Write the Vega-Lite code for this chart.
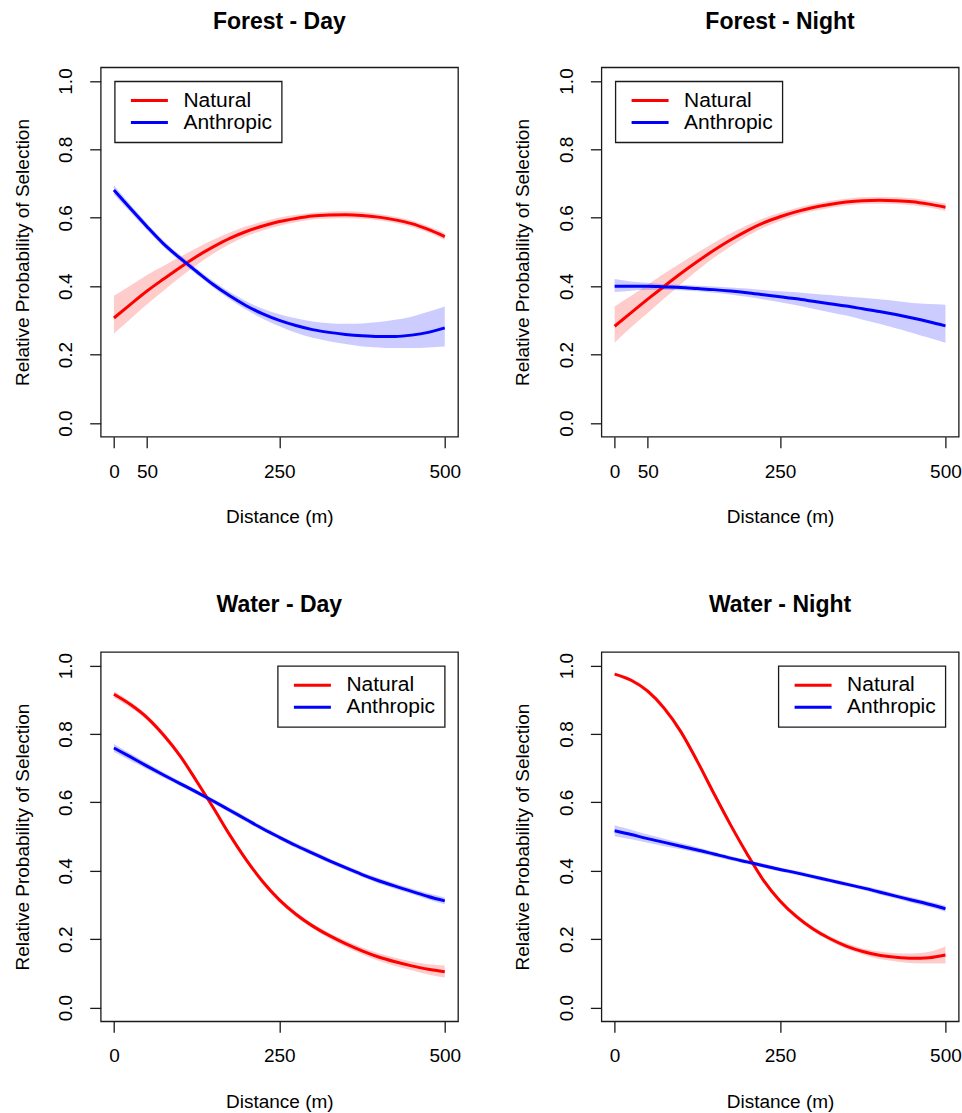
{
"$schema": "https://vega.github.io/schema/vega-lite/v6.json",
"padding": {"left": 11.7, "top": 9.3, "right": 0, "bottom": 0},
"config": {
  "font": "Liberation Sans",
  "background": "white",
  "view": {"stroke": "#1a1a1a", "strokeWidth": 1.3},
  "axis": {"grid": false, "domain": false, "tickSize": 11, "tickColor": "#1a1a1a", "tickWidth": 1.3, "labelFont": "Liberation Sans", "labelFontSize": 19, "labelColor": "#000000", "titleFont": "Liberation Sans", "titleFontSize": 19, "titleFontWeight": "normal", "titleColor": "#000000", "labelOverlap": false},
  "axisX": {"labelAngle": 0, "labelBaseline": "alphabetic", "labelPadding": 29.5, "labelFlush": false, "titleBaseline": "alphabetic", "titleAlign": "center"},
  "axisY": {"labelAngle": 270, "labelAlign": "center", "labelBaseline": "alphabetic", "labelPadding": 18, "titleAngle": 270, "titleBaseline": "alphabetic", "titleAlign": "center"},
  "title": {"font": "Liberation Sans", "fontSize": 23, "fontWeight": "bold", "color": "#000000", "anchor": "middle", "frame": "group", "baseline": "alphabetic"},
  "legend": {"title": null, "offset": 13.5, "strokeColor": "#1a1a1a", "strokeWidth": 1.3, "fillColor": "white", "padding": 9, "symbolType": "stroke", "symbolSize": 1369, "symbolStrokeWidth": 3, "clipHeight": 20.5, "rowPadding": 0, "symbolOffset": 5.7, "labelOffset": 14, "labelFont": "Liberation Sans", "labelFontSize": 21, "labelColor": "#000000", "labelBaseline": "middle"}
},
"data": {"values": [
{"panel":"Forest - Day","type":"Natural","x":0,"y":0.307,"lo":0.262,"hi":0.372},
{"panel":"Forest - Day","type":"Natural","x":25,"y":0.347,"lo":0.304,"hi":0.402},
{"panel":"Forest - Day","type":"Natural","x":50,"y":0.386,"lo":0.347,"hi":0.433},
{"panel":"Forest - Day","type":"Natural","x":75,"y":0.421,"lo":0.387,"hi":0.459},
{"panel":"Forest - Day","type":"Natural","x":100,"y":0.455,"lo":0.426,"hi":0.486},
{"panel":"Forest - Day","type":"Natural","x":125,"y":0.487,"lo":0.462,"hi":0.512},
{"panel":"Forest - Day","type":"Natural","x":150,"y":0.515,"lo":0.495,"hi":0.536},
{"panel":"Forest - Day","type":"Natural","x":175,"y":0.540,"lo":0.523,"hi":0.557},
{"panel":"Forest - Day","type":"Natural","x":200,"y":0.560,"lo":0.546,"hi":0.575},
{"panel":"Forest - Day","type":"Natural","x":225,"y":0.576,"lo":0.563,"hi":0.589},
{"panel":"Forest - Day","type":"Natural","x":250,"y":0.589,"lo":0.577,"hi":0.601},
{"panel":"Forest - Day","type":"Natural","x":275,"y":0.598,"lo":0.587,"hi":0.609},
{"panel":"Forest - Day","type":"Natural","x":300,"y":0.605,"lo":0.595,"hi":0.615},
{"panel":"Forest - Day","type":"Natural","x":325,"y":0.608,"lo":0.598,"hi":0.618},
{"panel":"Forest - Day","type":"Natural","x":350,"y":0.609,"lo":0.599,"hi":0.619},
{"panel":"Forest - Day","type":"Natural","x":375,"y":0.607,"lo":0.597,"hi":0.617},
{"panel":"Forest - Day","type":"Natural","x":400,"y":0.602,"lo":0.593,"hi":0.611},
{"panel":"Forest - Day","type":"Natural","x":425,"y":0.594,"lo":0.585,"hi":0.603},
{"panel":"Forest - Day","type":"Natural","x":450,"y":0.583,"lo":0.574,"hi":0.592},
{"panel":"Forest - Day","type":"Natural","x":475,"y":0.566,"lo":0.557,"hi":0.575},
{"panel":"Forest - Day","type":"Natural","x":500,"y":0.545,"lo":0.535,"hi":0.555},
{"panel":"Forest - Day","type":"Anthropic","x":0,"y":0.681,"lo":0.668,"hi":0.695},
{"panel":"Forest - Day","type":"Anthropic","x":25,"y":0.627,"lo":0.616,"hi":0.638},
{"panel":"Forest - Day","type":"Anthropic","x":50,"y":0.574,"lo":0.564,"hi":0.584},
{"panel":"Forest - Day","type":"Anthropic","x":75,"y":0.524,"lo":0.515,"hi":0.533},
{"panel":"Forest - Day","type":"Anthropic","x":100,"y":0.482,"lo":0.473,"hi":0.491},
{"panel":"Forest - Day","type":"Anthropic","x":125,"y":0.443,"lo":0.434,"hi":0.452},
{"panel":"Forest - Day","type":"Anthropic","x":150,"y":0.405,"lo":0.396,"hi":0.415},
{"panel":"Forest - Day","type":"Anthropic","x":175,"y":0.372,"lo":0.362,"hi":0.383},
{"panel":"Forest - Day","type":"Anthropic","x":200,"y":0.343,"lo":0.331,"hi":0.356},
{"panel":"Forest - Day","type":"Anthropic","x":225,"y":0.319,"lo":0.305,"hi":0.334},
{"panel":"Forest - Day","type":"Anthropic","x":250,"y":0.300,"lo":0.283,"hi":0.318},
{"panel":"Forest - Day","type":"Anthropic","x":275,"y":0.285,"lo":0.264,"hi":0.306},
{"panel":"Forest - Day","type":"Anthropic","x":300,"y":0.273,"lo":0.249,"hi":0.297},
{"panel":"Forest - Day","type":"Anthropic","x":325,"y":0.265,"lo":0.239,"hi":0.292},
{"panel":"Forest - Day","type":"Anthropic","x":350,"y":0.259,"lo":0.231,"hi":0.290},
{"panel":"Forest - Day","type":"Anthropic","x":375,"y":0.255,"lo":0.224,"hi":0.291},
{"panel":"Forest - Day","type":"Anthropic","x":400,"y":0.253,"lo":0.221,"hi":0.295},
{"panel":"Forest - Day","type":"Anthropic","x":425,"y":0.253,"lo":0.219,"hi":0.302},
{"panel":"Forest - Day","type":"Anthropic","x":450,"y":0.257,"lo":0.219,"hi":0.311},
{"panel":"Forest - Day","type":"Anthropic","x":475,"y":0.265,"lo":0.221,"hi":0.325},
{"panel":"Forest - Day","type":"Anthropic","x":500,"y":0.278,"lo":0.224,"hi":0.341},
{"panel":"Forest - Night","type":"Natural","x":0,"y":0.283,"lo":0.235,"hi":0.341},
{"panel":"Forest - Night","type":"Natural","x":25,"y":0.323,"lo":0.280,"hi":0.372},
{"panel":"Forest - Night","type":"Natural","x":50,"y":0.362,"lo":0.322,"hi":0.404},
{"panel":"Forest - Night","type":"Natural","x":75,"y":0.400,"lo":0.364,"hi":0.437},
{"panel":"Forest - Night","type":"Natural","x":100,"y":0.437,"lo":0.406,"hi":0.468},
{"panel":"Forest - Night","type":"Natural","x":125,"y":0.472,"lo":0.446,"hi":0.498},
{"panel":"Forest - Night","type":"Natural","x":150,"y":0.505,"lo":0.483,"hi":0.527},
{"panel":"Forest - Night","type":"Natural","x":175,"y":0.535,"lo":0.516,"hi":0.554},
{"panel":"Forest - Night","type":"Natural","x":200,"y":0.562,"lo":0.546,"hi":0.578},
{"panel":"Forest - Night","type":"Natural","x":225,"y":0.585,"lo":0.571,"hi":0.599},
{"panel":"Forest - Night","type":"Natural","x":250,"y":0.603,"lo":0.591,"hi":0.615},
{"panel":"Forest - Night","type":"Natural","x":275,"y":0.618,"lo":0.607,"hi":0.629},
{"panel":"Forest - Night","type":"Natural","x":300,"y":0.630,"lo":0.620,"hi":0.640},
{"panel":"Forest - Night","type":"Natural","x":325,"y":0.639,"lo":0.629,"hi":0.649},
{"panel":"Forest - Night","type":"Natural","x":350,"y":0.646,"lo":0.636,"hi":0.656},
{"panel":"Forest - Night","type":"Natural","x":375,"y":0.650,"lo":0.640,"hi":0.660},
{"panel":"Forest - Night","type":"Natural","x":400,"y":0.651,"lo":0.641,"hi":0.661},
{"panel":"Forest - Night","type":"Natural","x":425,"y":0.650,"lo":0.640,"hi":0.660},
{"panel":"Forest - Night","type":"Natural","x":450,"y":0.647,"lo":0.637,"hi":0.657},
{"panel":"Forest - Night","type":"Natural","x":475,"y":0.640,"lo":0.630,"hi":0.650},
{"panel":"Forest - Night","type":"Natural","x":500,"y":0.631,"lo":0.620,"hi":0.642},
{"panel":"Forest - Night","type":"Anthropic","x":0,"y":0.400,"lo":0.383,"hi":0.421},
{"panel":"Forest - Night","type":"Anthropic","x":25,"y":0.400,"lo":0.387,"hi":0.414},
{"panel":"Forest - Night","type":"Anthropic","x":50,"y":0.400,"lo":0.390,"hi":0.410},
{"panel":"Forest - Night","type":"Anthropic","x":75,"y":0.398,"lo":0.390,"hi":0.406},
{"panel":"Forest - Night","type":"Anthropic","x":100,"y":0.396,"lo":0.388,"hi":0.404},
{"panel":"Forest - Night","type":"Anthropic","x":125,"y":0.393,"lo":0.385,"hi":0.401},
{"panel":"Forest - Night","type":"Anthropic","x":150,"y":0.390,"lo":0.381,"hi":0.399},
{"panel":"Forest - Night","type":"Anthropic","x":175,"y":0.386,"lo":0.376,"hi":0.396},
{"panel":"Forest - Night","type":"Anthropic","x":200,"y":0.381,"lo":0.369,"hi":0.393},
{"panel":"Forest - Night","type":"Anthropic","x":225,"y":0.375,"lo":0.361,"hi":0.389},
{"panel":"Forest - Night","type":"Anthropic","x":250,"y":0.369,"lo":0.353,"hi":0.385},
{"panel":"Forest - Night","type":"Anthropic","x":275,"y":0.363,"lo":0.344,"hi":0.382},
{"panel":"Forest - Night","type":"Anthropic","x":300,"y":0.356,"lo":0.334,"hi":0.378},
{"panel":"Forest - Night","type":"Anthropic","x":325,"y":0.349,"lo":0.324,"hi":0.374},
{"panel":"Forest - Night","type":"Anthropic","x":350,"y":0.342,"lo":0.314,"hi":0.370},
{"panel":"Forest - Night","type":"Anthropic","x":375,"y":0.334,"lo":0.302,"hi":0.366},
{"panel":"Forest - Night","type":"Anthropic","x":400,"y":0.326,"lo":0.290,"hi":0.362},
{"panel":"Forest - Night","type":"Anthropic","x":425,"y":0.317,"lo":0.277,"hi":0.357},
{"panel":"Forest - Night","type":"Anthropic","x":450,"y":0.307,"lo":0.263,"hi":0.351},
{"panel":"Forest - Night","type":"Anthropic","x":475,"y":0.296,"lo":0.249,"hi":0.348},
{"panel":"Forest - Night","type":"Anthropic","x":500,"y":0.284,"lo":0.235,"hi":0.346},
{"panel":"Water - Day","type":"Natural","x":0,"y":0.916,"lo":0.906,"hi":0.925},
{"panel":"Water - Day","type":"Natural","x":25,"y":0.886,"lo":0.877,"hi":0.894},
{"panel":"Water - Day","type":"Natural","x":50,"y":0.848,"lo":0.840,"hi":0.856},
{"panel":"Water - Day","type":"Natural","x":75,"y":0.797,"lo":0.789,"hi":0.805},
{"panel":"Water - Day","type":"Natural","x":100,"y":0.736,"lo":0.728,"hi":0.744},
{"panel":"Water - Day","type":"Natural","x":125,"y":0.662,"lo":0.654,"hi":0.670},
{"panel":"Water - Day","type":"Natural","x":150,"y":0.585,"lo":0.577,"hi":0.593},
{"panel":"Water - Day","type":"Natural","x":175,"y":0.505,"lo":0.497,"hi":0.513},
{"panel":"Water - Day","type":"Natural","x":200,"y":0.432,"lo":0.425,"hi":0.439},
{"panel":"Water - Day","type":"Natural","x":225,"y":0.368,"lo":0.361,"hi":0.375},
{"panel":"Water - Day","type":"Natural","x":250,"y":0.315,"lo":0.308,"hi":0.322},
{"panel":"Water - Day","type":"Natural","x":275,"y":0.273,"lo":0.266,"hi":0.280},
{"panel":"Water - Day","type":"Natural","x":300,"y":0.239,"lo":0.232,"hi":0.246},
{"panel":"Water - Day","type":"Natural","x":325,"y":0.211,"lo":0.203,"hi":0.219},
{"panel":"Water - Day","type":"Natural","x":350,"y":0.187,"lo":0.178,"hi":0.196},
{"panel":"Water - Day","type":"Natural","x":375,"y":0.166,"lo":0.156,"hi":0.176},
{"panel":"Water - Day","type":"Natural","x":400,"y":0.148,"lo":0.137,"hi":0.159},
{"panel":"Water - Day","type":"Natural","x":425,"y":0.134,"lo":0.122,"hi":0.146},
{"panel":"Water - Day","type":"Natural","x":450,"y":0.122,"lo":0.109,"hi":0.135},
{"panel":"Water - Day","type":"Natural","x":475,"y":0.112,"lo":0.097,"hi":0.127},
{"panel":"Water - Day","type":"Natural","x":500,"y":0.105,"lo":0.088,"hi":0.123},
{"panel":"Water - Day","type":"Anthropic","x":0,"y":0.759,"lo":0.747,"hi":0.771},
{"panel":"Water - Day","type":"Anthropic","x":25,"y":0.733,"lo":0.722,"hi":0.743},
{"panel":"Water - Day","type":"Anthropic","x":50,"y":0.706,"lo":0.697,"hi":0.715},
{"panel":"Water - Day","type":"Anthropic","x":75,"y":0.680,"lo":0.672,"hi":0.688},
{"panel":"Water - Day","type":"Anthropic","x":100,"y":0.655,"lo":0.648,"hi":0.662},
{"panel":"Water - Day","type":"Anthropic","x":125,"y":0.630,"lo":0.623,"hi":0.637},
{"panel":"Water - Day","type":"Anthropic","x":150,"y":0.604,"lo":0.597,"hi":0.611},
{"panel":"Water - Day","type":"Anthropic","x":175,"y":0.577,"lo":0.570,"hi":0.584},
{"panel":"Water - Day","type":"Anthropic","x":200,"y":0.550,"lo":0.543,"hi":0.557},
{"panel":"Water - Day","type":"Anthropic","x":225,"y":0.523,"lo":0.516,"hi":0.530},
{"panel":"Water - Day","type":"Anthropic","x":250,"y":0.498,"lo":0.491,"hi":0.505},
{"panel":"Water - Day","type":"Anthropic","x":275,"y":0.474,"lo":0.467,"hi":0.481},
{"panel":"Water - Day","type":"Anthropic","x":300,"y":0.452,"lo":0.445,"hi":0.459},
{"panel":"Water - Day","type":"Anthropic","x":325,"y":0.430,"lo":0.423,"hi":0.437},
{"panel":"Water - Day","type":"Anthropic","x":350,"y":0.409,"lo":0.402,"hi":0.416},
{"panel":"Water - Day","type":"Anthropic","x":375,"y":0.389,"lo":0.382,"hi":0.396},
{"panel":"Water - Day","type":"Anthropic","x":400,"y":0.371,"lo":0.363,"hi":0.379},
{"panel":"Water - Day","type":"Anthropic","x":425,"y":0.355,"lo":0.347,"hi":0.363},
{"panel":"Water - Day","type":"Anthropic","x":450,"y":0.340,"lo":0.332,"hi":0.348},
{"panel":"Water - Day","type":"Anthropic","x":475,"y":0.325,"lo":0.316,"hi":0.334},
{"panel":"Water - Day","type":"Anthropic","x":500,"y":0.312,"lo":0.302,"hi":0.322},
{"panel":"Water - Night","type":"Natural","x":0,"y":0.975,"lo":0.970,"hi":0.979},
{"panel":"Water - Night","type":"Natural","x":25,"y":0.957,"lo":0.951,"hi":0.963},
{"panel":"Water - Night","type":"Natural","x":50,"y":0.925,"lo":0.918,"hi":0.932},
{"panel":"Water - Night","type":"Natural","x":75,"y":0.875,"lo":0.867,"hi":0.883},
{"panel":"Water - Night","type":"Natural","x":100,"y":0.807,"lo":0.799,"hi":0.815},
{"panel":"Water - Night","type":"Natural","x":125,"y":0.720,"lo":0.712,"hi":0.728},
{"panel":"Water - Night","type":"Natural","x":150,"y":0.626,"lo":0.618,"hi":0.634},
{"panel":"Water - Night","type":"Natural","x":175,"y":0.535,"lo":0.527,"hi":0.543},
{"panel":"Water - Night","type":"Natural","x":200,"y":0.450,"lo":0.442,"hi":0.458},
{"panel":"Water - Night","type":"Natural","x":225,"y":0.372,"lo":0.365,"hi":0.379},
{"panel":"Water - Night","type":"Natural","x":250,"y":0.312,"lo":0.305,"hi":0.319},
{"panel":"Water - Night","type":"Natural","x":275,"y":0.266,"lo":0.259,"hi":0.273},
{"panel":"Water - Night","type":"Natural","x":300,"y":0.230,"lo":0.223,"hi":0.237},
{"panel":"Water - Night","type":"Natural","x":325,"y":0.202,"lo":0.195,"hi":0.209},
{"panel":"Water - Night","type":"Natural","x":350,"y":0.180,"lo":0.172,"hi":0.188},
{"panel":"Water - Night","type":"Natural","x":375,"y":0.164,"lo":0.155,"hi":0.173},
{"panel":"Water - Night","type":"Natural","x":400,"y":0.153,"lo":0.142,"hi":0.164},
{"panel":"Water - Night","type":"Natural","x":425,"y":0.147,"lo":0.135,"hi":0.159},
{"panel":"Water - Night","type":"Natural","x":450,"y":0.144,"lo":0.130,"hi":0.158},
{"panel":"Water - Night","type":"Natural","x":475,"y":0.146,"lo":0.129,"hi":0.163},
{"panel":"Water - Night","type":"Natural","x":500,"y":0.154,"lo":0.129,"hi":0.179},
{"panel":"Water - Night","type":"Anthropic","x":0,"y":0.517,"lo":0.501,"hi":0.533},
{"panel":"Water - Night","type":"Anthropic","x":25,"y":0.506,"lo":0.492,"hi":0.520},
{"panel":"Water - Night","type":"Anthropic","x":50,"y":0.494,"lo":0.482,"hi":0.506},
{"panel":"Water - Night","type":"Anthropic","x":75,"y":0.483,"lo":0.472,"hi":0.494},
{"panel":"Water - Night","type":"Anthropic","x":100,"y":0.472,"lo":0.463,"hi":0.481},
{"panel":"Water - Night","type":"Anthropic","x":125,"y":0.461,"lo":0.453,"hi":0.469},
{"panel":"Water - Night","type":"Anthropic","x":150,"y":0.449,"lo":0.442,"hi":0.456},
{"panel":"Water - Night","type":"Anthropic","x":175,"y":0.437,"lo":0.431,"hi":0.443},
{"panel":"Water - Night","type":"Anthropic","x":200,"y":0.426,"lo":0.420,"hi":0.432},
{"panel":"Water - Night","type":"Anthropic","x":225,"y":0.415,"lo":0.409,"hi":0.421},
{"panel":"Water - Night","type":"Anthropic","x":250,"y":0.404,"lo":0.398,"hi":0.410},
{"panel":"Water - Night","type":"Anthropic","x":275,"y":0.394,"lo":0.388,"hi":0.400},
{"panel":"Water - Night","type":"Anthropic","x":300,"y":0.383,"lo":0.377,"hi":0.389},
{"panel":"Water - Night","type":"Anthropic","x":325,"y":0.372,"lo":0.366,"hi":0.378},
{"panel":"Water - Night","type":"Anthropic","x":350,"y":0.361,"lo":0.355,"hi":0.367},
{"panel":"Water - Night","type":"Anthropic","x":375,"y":0.350,"lo":0.344,"hi":0.356},
{"panel":"Water - Night","type":"Anthropic","x":400,"y":0.338,"lo":0.331,"hi":0.345},
{"panel":"Water - Night","type":"Anthropic","x":425,"y":0.326,"lo":0.319,"hi":0.333},
{"panel":"Water - Night","type":"Anthropic","x":450,"y":0.314,"lo":0.306,"hi":0.322},
{"panel":"Water - Night","type":"Anthropic","x":475,"y":0.302,"lo":0.294,"hi":0.310},
{"panel":"Water - Night","type":"Anthropic","x":500,"y":0.289,"lo":0.280,"hi":0.298}
]},
"columns": 2,
"spacing": {"row": 214.6, "column": 142.7},
"bounds": "flush",
"resolve": {"scale": {"x": "independent", "y": "independent", "color": "independent"}, "legend": {"color": "independent"}},
"concat": [
{
  "width": 357.3, "height": 369.4,
  "title": {"text": "Forest - Day", "offset": 33.7},
  "transform": [{"filter": "datum.panel === 'Forest - Day'"}],
  "encoding": {
    "x": {"field": "x", "type": "quantitative", "scale": {"domain": [-20, 520], "nice": false, "zero": false}, "axis": {"values": [0, 50, 250, 500], "title": "Distance (m)", "titleX": 178.65, "titleY": 86}}
  },
  "resolve": {"scale": {"color": "independent"}},
  "layer": [
    {"mark": {"type": "area", "opacity": 0.2, "interpolate": "monotone"},
     "encoding": {
       "y": {"field": "lo", "type": "quantitative", "scale": {"domain": [-0.04, 1.04], "nice": false, "zero": false}, "axis": {"values": [0, 0.2, 0.4, 0.6, 0.8, 1], "format": ".1f", "title": "Relative Probability of Selection", "titleX": -72.5, "titleY": 184.7}},
       "y2": {"field": "hi"},
       "color": {"field": "type", "type": "nominal", "scale": {"domain": ["Natural", "Anthropic"], "range": ["#FF0000", "#0000FF"]}, "legend": null}}},
    {"mark": {"type": "line", "strokeWidth": 3, "interpolate": "monotone"},
     "encoding": {
       "y": {"field": "y", "type": "quantitative", "scale": {"domain": [-0.04, 1.04], "nice": false, "zero": false}, "axis": {"values": [0, 0.2, 0.4, 0.6, 0.8, 1], "format": ".1f", "title": "Relative Probability of Selection", "titleX": -72.5, "titleY": 184.7}},
       "color": {"field": "type", "type": "nominal", "scale": {"domain": ["Natural", "Anthropic"], "range": ["#FF0000", "#0000FF"]}, "legend": {"orient": "top-left"}}}}
  ]
},
{
  "width": 357.3, "height": 369.4,
  "title": {"text": "Forest - Night", "offset": 33.7},
  "transform": [{"filter": "datum.panel === 'Forest - Night'"}],
  "encoding": {
    "x": {"field": "x", "type": "quantitative", "scale": {"domain": [-20, 520], "nice": false, "zero": false}, "axis": {"values": [0, 50, 250, 500], "title": "Distance (m)", "titleX": 178.65, "titleY": 86}}
  },
  "resolve": {"scale": {"color": "independent"}},
  "layer": [
    {"mark": {"type": "area", "opacity": 0.2, "interpolate": "monotone"},
     "encoding": {
       "y": {"field": "lo", "type": "quantitative", "scale": {"domain": [-0.04, 1.04], "nice": false, "zero": false}, "axis": {"values": [0, 0.2, 0.4, 0.6, 0.8, 1], "format": ".1f", "title": "Relative Probability of Selection", "titleX": -72.5, "titleY": 184.7}},
       "y2": {"field": "hi"},
       "color": {"field": "type", "type": "nominal", "scale": {"domain": ["Natural", "Anthropic"], "range": ["#FF0000", "#0000FF"]}, "legend": null}}},
    {"mark": {"type": "line", "strokeWidth": 3, "interpolate": "monotone"},
     "encoding": {
       "y": {"field": "y", "type": "quantitative", "scale": {"domain": [-0.04, 1.04], "nice": false, "zero": false}, "axis": {"values": [0, 0.2, 0.4, 0.6, 0.8, 1], "format": ".1f", "title": "Relative Probability of Selection", "titleX": -72.5, "titleY": 184.7}},
       "color": {"field": "type", "type": "nominal", "scale": {"domain": ["Natural", "Anthropic"], "range": ["#FF0000", "#0000FF"]}, "legend": {"orient": "top-left"}}}}
  ]
},
{
  "width": 357.3, "height": 369.4,
  "title": {"text": "Water - Day", "offset": 34.4},
  "transform": [{"filter": "datum.panel === 'Water - Day'"}],
  "encoding": {
    "x": {"field": "x", "type": "quantitative", "scale": {"domain": [-20, 520], "nice": false, "zero": false}, "axis": {"values": [0, 250, 500], "title": "Distance (m)", "titleX": 178.65, "titleY": 86}}
  },
  "resolve": {"scale": {"color": "independent"}},
  "layer": [
    {"mark": {"type": "area", "opacity": 0.2, "interpolate": "monotone"},
     "encoding": {
       "y": {"field": "lo", "type": "quantitative", "scale": {"domain": [-0.04, 1.04], "nice": false, "zero": false}, "axis": {"values": [0, 0.2, 0.4, 0.6, 0.8, 1], "format": ".1f", "title": "Relative Probability of Selection", "titleX": -72.5, "titleY": 184.7}},
       "y2": {"field": "hi"},
       "color": {"field": "type", "type": "nominal", "scale": {"domain": ["Natural", "Anthropic"], "range": ["#FF0000", "#0000FF"]}, "legend": null}}},
    {"mark": {"type": "line", "strokeWidth": 3, "interpolate": "monotone"},
     "encoding": {
       "y": {"field": "y", "type": "quantitative", "scale": {"domain": [-0.04, 1.04], "nice": false, "zero": false}, "axis": {"values": [0, 0.2, 0.4, 0.6, 0.8, 1], "format": ".1f", "title": "Relative Probability of Selection", "titleX": -72.5, "titleY": 184.7}},
       "color": {"field": "type", "type": "nominal", "scale": {"domain": ["Natural", "Anthropic"], "range": ["#FF0000", "#0000FF"]}, "legend": {"orient": "top-right"}}}}
  ]
},
{
  "width": 357.3, "height": 369.4,
  "title": {"text": "Water - Night", "offset": 34.4},
  "transform": [{"filter": "datum.panel === 'Water - Night'"}],
  "encoding": {
    "x": {"field": "x", "type": "quantitative", "scale": {"domain": [-20, 520], "nice": false, "zero": false}, "axis": {"values": [0, 250, 500], "title": "Distance (m)", "titleX": 178.65, "titleY": 86}}
  },
  "resolve": {"scale": {"color": "independent"}},
  "layer": [
    {"mark": {"type": "area", "opacity": 0.2, "interpolate": "monotone"},
     "encoding": {
       "y": {"field": "lo", "type": "quantitative", "scale": {"domain": [-0.04, 1.04], "nice": false, "zero": false}, "axis": {"values": [0, 0.2, 0.4, 0.6, 0.8, 1], "format": ".1f", "title": "Relative Probability of Selection", "titleX": -72.5, "titleY": 184.7}},
       "y2": {"field": "hi"},
       "color": {"field": "type", "type": "nominal", "scale": {"domain": ["Natural", "Anthropic"], "range": ["#FF0000", "#0000FF"]}, "legend": null}}},
    {"mark": {"type": "line", "strokeWidth": 3, "interpolate": "monotone"},
     "encoding": {
       "y": {"field": "y", "type": "quantitative", "scale": {"domain": [-0.04, 1.04], "nice": false, "zero": false}, "axis": {"values": [0, 0.2, 0.4, 0.6, 0.8, 1], "format": ".1f", "title": "Relative Probability of Selection", "titleX": -72.5, "titleY": 184.7}},
       "color": {"field": "type", "type": "nominal", "scale": {"domain": ["Natural", "Anthropic"], "range": ["#FF0000", "#0000FF"]}, "legend": {"orient": "top-right"}}}}
  ]
}
]
}
